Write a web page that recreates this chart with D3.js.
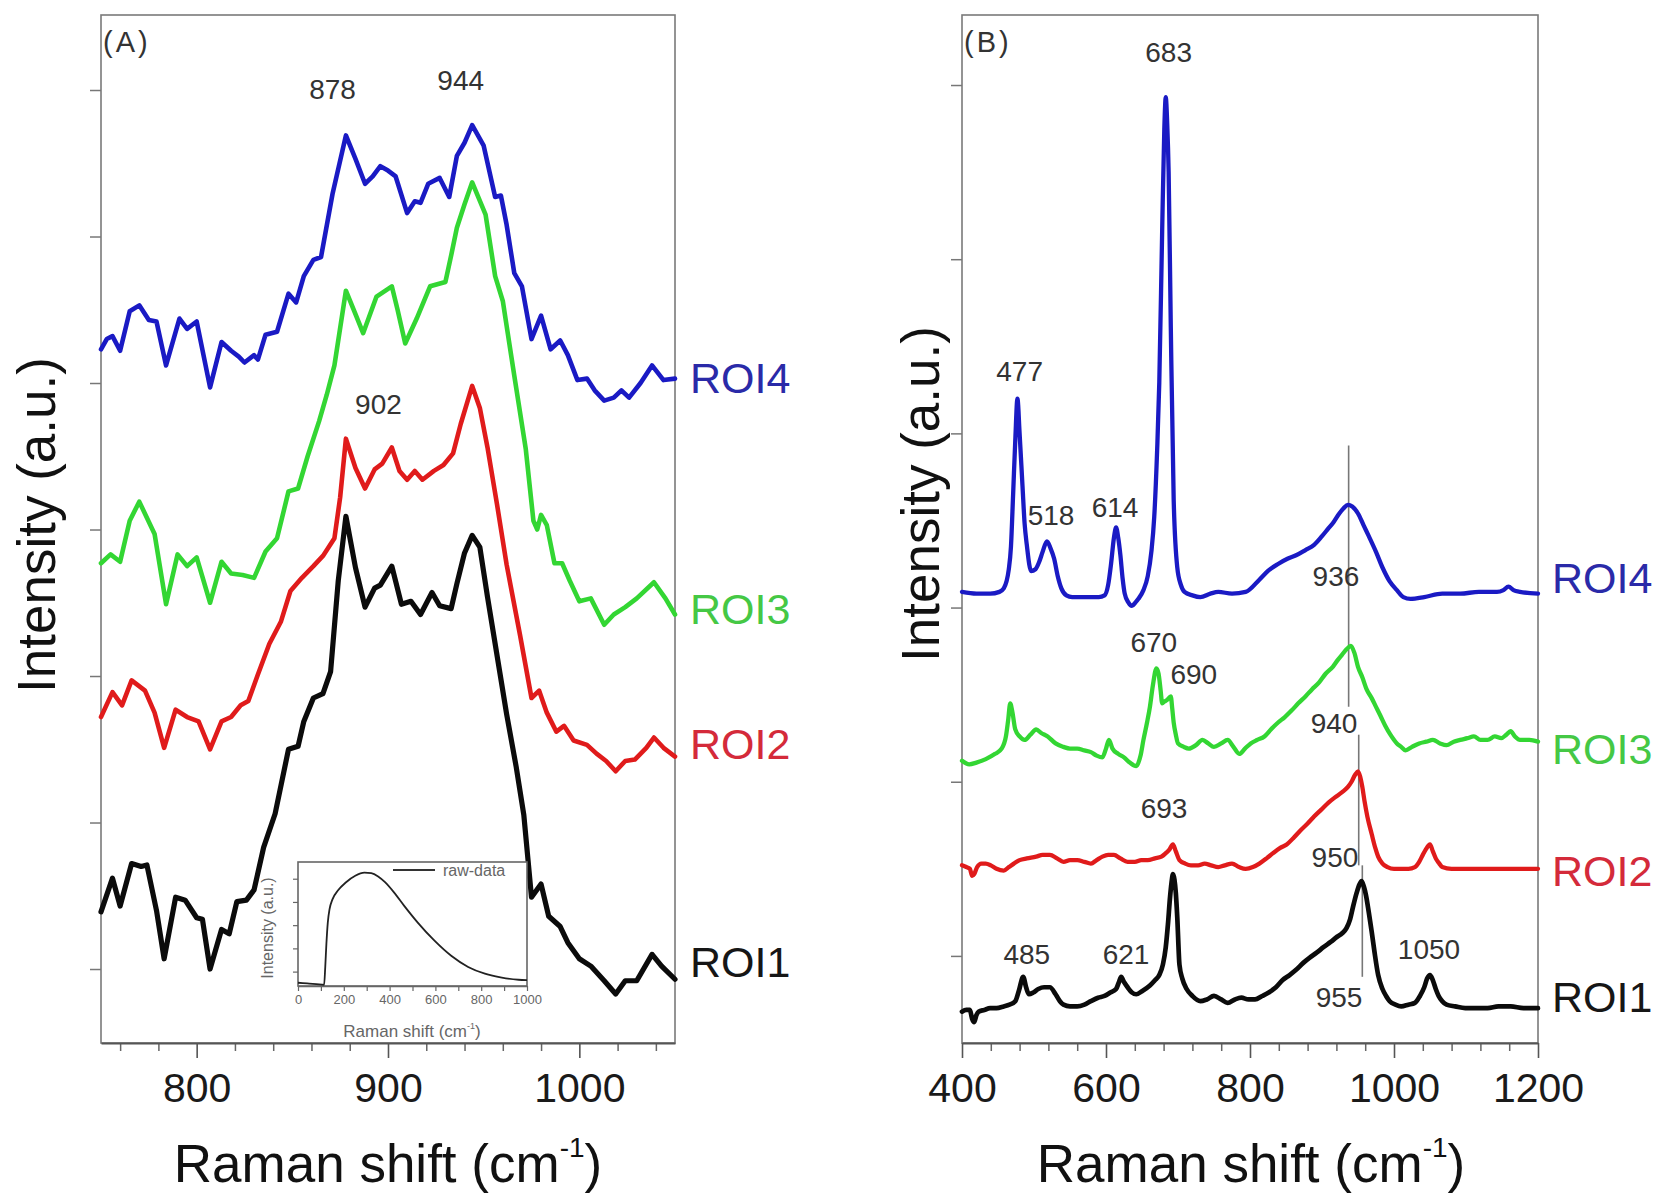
<!DOCTYPE html>
<html>
<head>
<meta charset="utf-8">
<script src="https://cdn.jsdelivr.net/npm/d3@7"></script>
<style>
  body { margin: 0; background: #fff; }
  svg text { font-family: "Liberation Sans", Arial, Helvetica, sans-serif; }
</style>
</head>
<body>
<svg id="fig" width="1657" height="1195"></svg>
<script>
// ---------- Panel (A): 750–1050 cm-1, intensity in a.u. (stacked spectra) ----------
const roi1A = [[750,39],[756,62],[760,43],[766,72],[771,70],[774,71],[779,40],[783,7],[789,49],[794,47],[800,35],[803,34],[807,0],[813,27],[817,24],[821,46],[826,47],[830,54],[835,83],[841,106],[848,150],[853,152],[856,169],[861,185],[866,188],[870,203],[874,265],[878,309],[883,274],[888,247],[893,260],[896,262],[902,275],[907,249],[912,251],[917,242],[923,257],[927,248],[933,246],[936,263],[940,284],[944,296],[948,288],[952,254],[958,206],[962,174],[967,138],[971,105],[975,49],[980,58],[984,36],[990,29],[994,18],[1000,7],[1006,2],[1013,-8],[1019,-17],[1024,-8],[1030,-8],[1038,10],[1043,2],[1050,-7]];
const roi2A = [[750,172],[756,189],[761,180],[766,197],[773,190],[778,175],[783,151],[789,177],[795,172],[801,169],[807,150],[813,169],[818,172],[823,180],[827,183],[832,201],[838,222],[844,237],[849,258],[855,267],[861,275],[866,282],[872,294],[875,322],[878,362],[883,342],[888,328],[893,341],[897,345],[902,356],[906,340],[910,334],[914,340],[918,334],[924,340],[929,344],[934,352],[938,372],[944,398],[948,383],[952,356],[957,317],[962,276],[969,228],[975,185],[979,190],[983,175],[988,162],[992,166],[997,156],[1004,153],[1009,147],[1014,142],[1019,135],[1024,142],[1029,143],[1035,151],[1039,158],[1044,151],[1050,145]];
const roi3A = [[750,277],[755,283],[760,278],[765,306],[770,319],[778,297],[784,249],[790,283],[795,275],[800,281],[807,250],[813,278],[818,270],[824,269],[830,267],[836,285],[842,294],[848,326],[853,328],[858,350],[864,374],[868,392],[872,412],[878,463],[883,447],[887,434],[894,459],[902,466],[905,450],[909,427],[915,444],[922,466],[930,469],[933,487],[936,506],[940,522],[944,537],[951,515],[956,473],[960,456],[966,405],[972,355],[976,306],[978,300],[980,310],[983,303],[987,277],[991,277],[995,265],[1000,251],[1006,253],[1013,235],[1018,242],[1024,247],[1030,253],[1039,264],[1045,253],[1050,242]];
const roi4A = [[750,423],[753,430],[756,432],[760,422],[765,449],[770,453],[775,443],[779,442],[784,412],[791,444],[795,437],[800,442],[807,397],[813,428],[818,422],[822,418],[825,414],[830,419],[832,416],[836,433],[842,435],[848,461],[852,455],[856,473],[861,484],[865,486],[871,529],[878,569],[883,553],[888,536],[892,541],[896,548],[900,545],[904,541],[910,516],[914,524],[917,523],[921,536],[927,540],[932,527],[936,555],[940,564],[944,576],[950,562],[956,527],[959,528],[962,508],[966,475],[970,466],[975,430],[980,446],[985,423],[990,429],[994,419],[999,402],[1004,403],[1008,395],[1013,388],[1018,390],[1022,395],[1026,390],[1032,400],[1038,412],[1044,402],[1050,403]];

// ---------- Panel (B): 400–1200 cm-1 ----------
const roi1B = [[400,-32],[406,-31],[411,-31],[414,-36],[417,-38],[420,-34],[423,-32],[431,-31],[439,-30],[448,-30],[458,-29],[466,-28],[474,-26],[479,-20],[485,-12],[489,-18],[493,-22],[499,-21],[506,-19],[514,-18],[522,-18],[530,-22],[536,-26],[541,-28],[550,-29],[560,-29],[570,-28],[579,-26],[589,-24],[598,-23],[606,-21],[614,-19],[618,-15],[621,-12],[625,-15],[630,-18],[636,-21],[642,-22],[651,-20],[661,-17],[668,-14],[674,-11],[679,-5],[683,5],[686,18],[689,34],[691,42],[693,47],[695,44],[697,36],[699,22],[702,-5],[706,-13],[712,-19],[720,-23],[731,-26],[740,-25],[750,-23],[760,-25],[769,-27],[779,-25],[788,-24],[798,-25],[807,-25],[817,-23],[826,-21],[836,-18],[845,-14],[855,-11],[864,-8],[874,-4],[883,-1],[893,2],[902,5],[912,8],[921,11],[928,13],[934,16],[939,21],[943,28],[948,36],[952,41],[955,43],[958,40],[961,35],[965,25],[969,14],[973,2],[978,-11],[984,-19],[989,-23],[994,-26],[1002,-28],[1010,-29],[1020,-28],[1029,-27],[1036,-23],[1042,-18],[1046,-13],[1050,-11],[1054,-14],[1058,-19],[1062,-23],[1067,-26],[1073,-28],[1085,-29],[1099,-30],[1115,-30],[1130,-30],[1145,-29],[1162,-29],[1180,-30],[1200,-30]];
const roi2B = [[400,52],[406,51],[411,50],[414,46],[417,47],[421,51],[427,53],[433,53],[440,52],[448,50],[458,49],[465,51],[472,53],[480,55],[490,56],[503,57],[512,58],[522,58],[532,56],[541,54],[550,55],[560,55],[570,54],[579,53],[587,55],[595,57],[603,58],[611,58],[620,56],[630,54],[640,54],[649,55],[658,55],[668,56],[677,57],[683,59],[688,61],[693,64],[697,60],[702,55],[710,53],[718,52],[728,52],[737,53],[746,52],[756,51],[765,52],[775,53],[785,51],[794,50],[804,51],[813,53],[823,56],[832,59],[842,62],[851,64],[861,68],[870,72],[880,76],[889,80],[899,84],[909,88],[918,91],[928,94],[936,97],[941,100],[946,104],[950,106],[953,103],[956,97],[959,89],[963,80],[969,70],[974,62],[978,57],[984,53],[991,51],[1000,50],[1010,50],[1020,50],[1029,51],[1035,54],[1040,58],[1044,61],[1050,64],[1054,60],[1058,56],[1063,53],[1067,51],[1080,50],[1092,50],[1110,50],[1130,50],[1150,50],[1175,50],[1200,50]];
const roi3B = [[400,112],[410,110],[420,111],[433,113],[446,116],[455,119],[461,126],[464,135],[467,145],[470,140],[474,130],[480,126],[487,124],[495,127],[503,130],[510,128],[519,126],[530,122],[541,120],[550,119],[560,119],[570,118],[579,117],[587,115],[595,114],[600,119],[604,124],[609,119],[617,116],[625,114],[633,111],[642,109],[648,115],[652,124],[657,134],[661,143],[665,155],[670,165],[673,162],[676,152],[678,145],[681,146],[685,147],[690,149],[692,142],[694,134],[697,127],[700,122],[708,120],[715,119],[725,121],[734,124],[742,122],[750,120],[760,122],[769,124],[777,120],[785,116],[793,119],[801,122],[810,124],[820,126],[829,130],[839,134],[848,137],[858,141],[867,145],[877,149],[886,153],[896,157],[905,162],[915,166],[922,170],[928,173],[934,176],[940,178],[945,174],[950,166],[956,160],[962,153],[969,148],[975,143],[981,138],[988,132],[995,127],[1004,122],[1010,120],[1016,118],[1025,120],[1035,122],[1045,123],[1054,124],[1064,122],[1073,121],[1083,123],[1092,124],[1102,125],[1111,126],[1120,124],[1130,124],[1140,126],[1149,125],[1156,127],[1162,129],[1168,126],[1175,124],[1188,124],[1200,123]];
const roi4B = [[400,209],[420,208],[439,208],[452,209],[458,211],[465,222],[468,235],[471,265],[474,296],[477,320],[480,300],[484,270],[487,248],[490,236],[496,221],[502,222],[507,226],[512,232],[518,238],[523,234],[528,228],[533,218],[538,211],[545,207],[553,206],[565,206],[579,206],[590,206],[598,207],[603,213],[607,225],[611,240],[614,246],[617,240],[620,230],[623,217],[626,208],[631,203],[636,201],[641,203],[645,205],[652,210],[658,218],[663,232],[667,252],[671,290],[674,329],[678,416],[681,475],[683,493],[685,478],[687,450],[690,361],[694,262],[699,223],[704,213],[709,209],[720,207],[731,206],[745,208],[756,209],[775,208],[794,209],[813,216],[825,221],[839,225],[852,228],[864,230],[877,233],[889,236],[900,241],[908,245],[916,249],[924,254],[930,257],[936,259],[942,258],[950,254],[958,247],[965,241],[975,232],[984,223],[994,215],[1004,210],[1013,206],[1023,205],[1042,206],[1067,208],[1092,208],[1118,209],[1143,209],[1152,210],[1159,212],[1166,210],[1175,209],[1200,208]];

// Inset of panel (A): raw spectrum, 0–1000 cm-1, counts
const rawData = [[0,5200],[40,4900],[80,4600],[114,4300],[119,12000],[124,22000],[130,31000],[138,37000],[150,41000],[175,45000],[210,48500],[250,51300],[290,52600],[320,52400],[350,51000],[380,48500],[420,44000],[463,38400],[522,31200],[596,23300],[669,16800],[743,12000],[816,9100],[890,7400],[963,6500],[1000,6300]];

// Series names (bottom to top) and the vertical level of each name tag
const roiNames = ["ROI1", "ROI2", "ROI3", "ROI4"];
const roiTagLevelA = [5, 154, 246, 404];
const roiTagLevelB = [-23.5, 49, 119, 217];

// Peak annotations: peak position (cm-1), horizontal nudge (cm-1), text level (a.u.)
const peaksA = [
  {peak: 878, dx: -7, level: 601},
  {peak: 944, dx: -6, level: 607},
  {peak: 902, dx: -7, level: 386}
];
const peaksB = [
  {peak: 683, dx: 4, level: 519},
  {peak: 477, dx: 3, level: 336},
  {peak: 518, dx: 5.6, level: 253},
  {peak: 614, dx: -1.5, level: 258},
  {peak: 936, dx: -16.6, level: 218},
  {peak: 670, dx: -3.6, level: 180},
  {peak: 690, dx: 32, level: 162},
  {peak: 940, dx: -23.3, level: 134},
  {peak: 693, dx: -12.4, level: 85},
  {peak: 950, dx: -32, level: 57},
  {peak: 485, dx: 5, level: 1},
  {peak: 621, dx: 6.8, level: 1},
  {peak: 1050, dx: -1.4, level: 4},
  {peak: 955, dx: -31.4, level: -23.5}
];
// Thin guide lines through the ~940 cm-1 band maxima
const guidesB = [
  {shift: 937, from: 293, to: 143},
  {shift: 951, from: 127, to: 52},
  {shift: 956, from: 52, to: -12}
];

// Axis ticks
const majorTicksA = [800, 900, 1000];
const minorTicksA = d3.range(760, 1041, 20).filter(v => v % 100 !== 0);
const majorTicksB = [400, 600, 800, 1000, 1200];
const minorTicksB = d3.range(440, 1161, 40).filter(v => v % 200 !== 0);
const yTicksA = d3.range(0, 601, 100);
const yTicksB = d3.range(0, 501, 100);
const insetXTicks = d3.range(0, 1001, 100);
const insetXLabels = [0, 200, 400, 600, 800, 1000];
const insetYTicks = d3.range(10000, 50001, 10000);

// ---------- styling ----------
const lineColors = ["#0b0b0b", "#e01b1b", "#33d633", "#1a1ac4"];
const tagColors  = ["#161616", "#d42a3a", "#45c845", "#2a2aa8"];
const FONT = '"Liberation Sans", Arial, Helvetica, sans-serif';
const FRAME = "#7a7a7a";

const svg = d3.select("#fig");
svg.append("rect").attr("width", 1657).attr("height", 1195).attr("fill", "#fff");

function drawPanel(p) {
  const g = svg.append("g");
  const x = d3.scaleLinear().domain(p.xDomain).range([p.left, p.right]);
  const y = d3.scaleLinear().domain(p.yDomain).range([p.bottom, p.top]);

  // frame
  g.append("rect")
    .attr("x", p.left).attr("y", p.top)
    .attr("width", p.right - p.left).attr("height", p.bottom - p.top)
    .attr("fill", "none").attr("stroke", FRAME).attr("stroke-width", 1.6);

  // x axis: minor ticks, then labelled major ticks
  const minor = g.append("g").attr("transform", `translate(0,${p.bottom})`)
    .call(d3.axisBottom(x).tickValues(p.minor).tickSize(8).tickSizeOuter(0).tickFormat(""));
  minor.select(".domain").remove();
  minor.selectAll("line").attr("stroke", "#666").attr("stroke-width", 1.5);

  const major = g.append("g").attr("transform", `translate(0,${p.bottom})`)
    .call(d3.axisBottom(x).tickValues(p.major).tickSize(15).tickSizeOuter(0)
      .tickPadding(15).tickFormat(d3.format("d")));
  major.select(".domain").attr("stroke", "#555").attr("stroke-width", 1.8);
  major.selectAll("line").attr("stroke", "#555").attr("stroke-width", 1.6);
  major.selectAll("text").attr("font-size", 41).attr("font-family", FONT).attr("fill", "#1a1a1a");

  // y axis: unlabelled ticks
  const yAx = g.append("g").attr("transform", `translate(${p.left},0)`)
    .call(d3.axisLeft(y).tickValues(p.yTicks).tickSize(11).tickSizeOuter(0).tickFormat(""));
  yAx.select(".domain").remove();
  yAx.selectAll("line").attr("stroke", "#777").attr("stroke-width", 1.5);

  // guide lines (drawn beneath the spectra)
  (p.guides || []).forEach(d => {
    g.append("line")
      .attr("x1", x(d.shift)).attr("x2", x(d.shift))
      .attr("y1", y(d.from)).attr("y2", y(d.to))
      .attr("stroke", "#777").attr("stroke-width", 1.6);
  });

  // spectra
  const line = d3.line().x(d => x(d[0])).y(d => y(d[1])).curve(p.curve);
  p.series.forEach((s, i) => {
    g.append("path").datum(s)
      .attr("d", line)
      .attr("fill", "none")
      .attr("stroke", lineColors[i])
      .attr("stroke-width", p.widths[i])
      .attr("stroke-linejoin", "round")
      .attr("stroke-linecap", "round");
  });

  // series name tags
  roiNames.forEach((name, i) => {
    g.append("text")
      .attr("x", p.right + p.tagGap).attr("y", y(p.tagLevels[i]))
      .attr("dy", "0.36em")
      .attr("font-size", 43).attr("fill", tagColors[i])
      .text(name);
  });

  // peak positions
  p.peaks.forEach(d => {
    g.append("text")
      .attr("x", x(d.peak + d.dx)).attr("y", y(d.level))
      .attr("dy", "0.36em").attr("text-anchor", "middle")
      .attr("font-size", 28).attr("fill", "#333")
      .text(d.peak);
  });

  // panel letter
  g.append("text")
    .attr("x", p.left + 2).attr("y", p.top + 37)
    .attr("font-size", 29).attr("fill", "#333").attr("letter-spacing", 3)
    .text(p.letter);

  // axis titles
  const xt = g.append("text")
    .attr("x", p.xTitleX).attr("y", 1182)
    .attr("text-anchor", "middle").attr("font-size", 53).attr("fill", "#111");
  xt.append("tspan").text("Raman shift (cm");
  xt.append("tspan").attr("font-size", 28).attr("dy", -25).text("-1");
  xt.append("tspan").attr("dy", 25).text(")");

  g.append("text")
    .attr("transform", `translate(${p.yTitleX},${p.yTitleY}) rotate(-90)`)
    .attr("text-anchor", "middle").attr("font-size", 53).attr("fill", "#111")
    .text("Intensity (a.u.)");

  return {x, y};
}

drawPanel({
  left: 101, right: 675, top: 15, bottom: 1043,
  xDomain: [750, 1050], yDomain: [-50.5, 651.2],
  major: majorTicksA, minor: minorTicksA, yTicks: yTicksA,
  series: [roi1A, roi2A, roi3A, roi4A], widths: [5.2, 4.6, 4.6, 4.6],
  curve: d3.curveLinear, tagLevels: roiTagLevelA, tagGap: 15,
  peaks: peaksA, letter: "(A)",
  xTitleX: 388, yTitleX: 55, yTitleY: 525
});

drawPanel({
  left: 962, right: 1538, top: 15, bottom: 1043,
  xDomain: [400, 1200], yDomain: [-50, 540.2],
  major: majorTicksB, minor: minorTicksB, yTicks: yTicksB,
  series: [roi1B, roi2B, roi3B, roi4B], widths: [4.7, 4.3, 4.3, 4.3],
  curve: d3.curveMonotoneX, tagLevels: roiTagLevelB, tagGap: 14,
  peaks: peaksB, guides: guidesB, letter: "(B)",
  xTitleX: 1251, yTitleX: 939, yTitleY: 494
});

// ---------- inset: raw spectrum ----------
(function drawInset() {
  const L = 298, R = 527, T = 862, B = 986;
  const g = svg.append("g");
  const x = d3.scaleLinear().domain([0, 1000]).range([L, R]);
  const y = d3.scaleLinear().domain([3800, 57200]).range([B, T]);

  g.append("rect").attr("x", L).attr("y", T).attr("width", R - L).attr("height", B - T)
    .attr("fill", "#fff").attr("stroke", "#666").attr("stroke-width", 1.6);

  const xa = g.append("g").attr("transform", `translate(0,${B})`)
    .call(d3.axisBottom(x).tickValues(insetXTicks).tickSize(5).tickSizeOuter(0).tickPadding(4)
      .tickFormat(d => insetXLabels.includes(d) ? d : ""));
  xa.select(".domain").attr("stroke", "#666").attr("stroke-width", 1.4);
  xa.selectAll("line").attr("stroke", "#666").attr("stroke-width", 1.2);
  xa.selectAll("text").attr("font-size", 13).attr("font-family", FONT).attr("fill", "#666");

  const ya = g.append("g").attr("transform", `translate(${L},0)`)
    .call(d3.axisLeft(y).tickValues(insetYTicks).tickSize(5).tickSizeOuter(0).tickFormat(""));
  ya.select(".domain").remove();
  ya.selectAll("line").attr("stroke", "#666").attr("stroke-width", 1.2);

  g.append("path").datum(rawData)
    .attr("d", d3.line().x(d => x(d[0])).y(d => y(d[1])).curve(d3.curveMonotoneX))
    .attr("fill", "none").attr("stroke", "#222").attr("stroke-width", 1.8);

  // legend
  g.append("line").attr("x1", 393).attr("x2", 435).attr("y1", 870).attr("y2", 870)
    .attr("stroke", "#333").attr("stroke-width", 1.8);
  g.append("text").attr("x", 443).attr("y", 870).attr("dy", "0.35em")
    .attr("font-size", 16).attr("fill", "#666").text("raw-data");

  const xt = g.append("text").attr("x", 412).attr("y", 1037)
    .attr("text-anchor", "middle").attr("font-size", 17).attr("fill", "#666");
  xt.append("tspan").text("Raman shift (cm");
  xt.append("tspan").attr("font-size", 9).attr("dy", -8).text("-1");
  xt.append("tspan").attr("dy", 8).text(")");

  g.append("text").attr("transform", "translate(273,928) rotate(-90)")
    .attr("text-anchor", "middle").attr("font-size", 16).attr("fill", "#666")
    .text("Intensity (a.u.)");
})();
</script>
</body>
</html>
